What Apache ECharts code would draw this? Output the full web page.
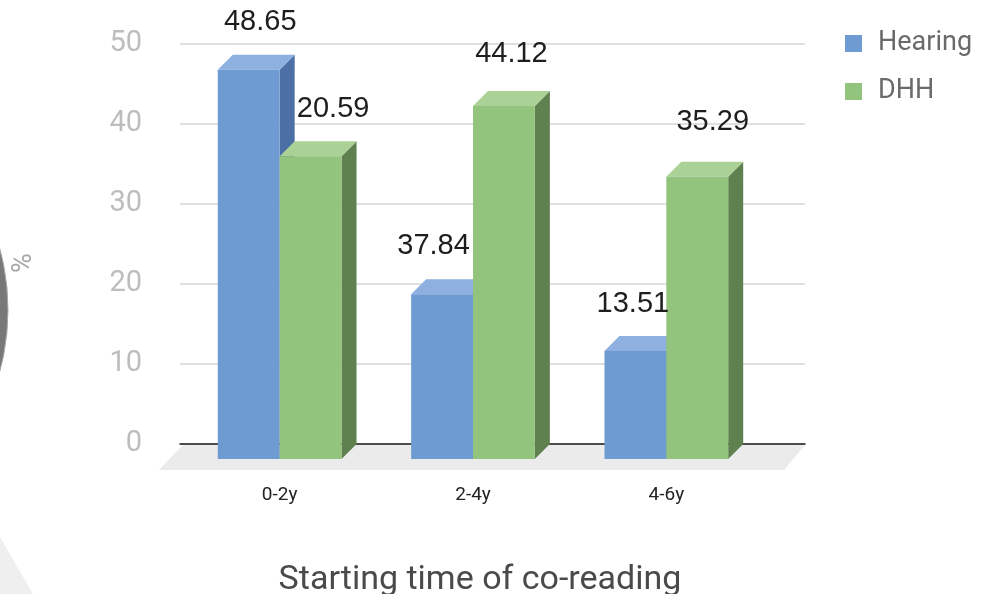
<!DOCTYPE html>
<html>
<head>
<meta charset="utf-8">
<title>Starting time of co-reading</title>
<script src="https://cdn.jsdelivr.net/npm/echarts@6/dist/echarts.min.js"></script>
<style>
  html, body { margin: 0; padding: 0; background: #ffffff; }
  #chart { width: 991px; height: 594px; }
</style>
</head>
<body>
<div id="chart"></div>
<script>
// Categories and values (percent of each group)
const categories = ['0-2y', '2-4y', '4-6y'];
const hearing = [48.65, 20.59, 13.51];
const dhh = [37.84, 44.12, 35.29];
// Value labels as printed above the bars
const hearingLabels = ['48.65', '37.84', '13.51'];
const dhhLabels = ['20.59', '44.12', '35.29'];
const yTicks = [0, 10, 20, 30, 40, 50];

// Look of the pseudo-3D bars
const DEPTH_X = 15;
const DEPTH_Y = 15;
const BAR_FRACTION = 0.32;
const LABEL_FONT = '29px "Liberation Sans", Arial, sans-serif';
const palette = {
  Hearing: { front: '#6F9BD3', top: '#8EB0E0', side: '#4C70A6' },
  DHH: { front: '#93C47E', top: '#AAD296', side: '#5F814F' }
};
// label nudges [dx, dy] relative to the bar's top
const hearingLabelShift = [[4, -33], [-16, -33], [-10, -32]];
const dhhLabelShift = [[15, -32], [0, -37], [8, -40]];

function barRenderer(colors, side, labels, shifts) {
  return function (params, api) {
    const i = api.value(0);
    const v = api.value(1);
    const base = api.coord([i, 0]);
    const top = api.coord([i, v]);
    const band = api.size([1, 0])[0];
    const w = band * BAR_FRACTION;
    const x0 = side === 0 ? base[0] - w : base[0];
    const ty = top[1];
    const by = base[1];
    const sh = shifts[params.dataIndex];
    return {
      type: 'group',
      children: [
        {
          type: 'polygon',
          shape: { points: [[x0 + w, ty], [x0 + w + DEPTH_X, ty - DEPTH_Y], [x0 + w + DEPTH_X, by - DEPTH_Y], [x0 + w, by]] },
          style: { fill: colors.side }
        },
        {
          type: 'polygon',
          shape: { points: [[x0, ty], [x0 + w, ty], [x0 + w + DEPTH_X, ty - DEPTH_Y], [x0 + DEPTH_X, ty - DEPTH_Y]] },
          style: { fill: colors.top }
        },
        {
          type: 'rect',
          shape: { x: x0, y: ty, width: w, height: by - ty },
          style: { fill: colors.front }
        },
        {
          type: 'text',
          z2: 100,
          style: {
            text: labels[params.dataIndex],
            x: x0 + (w + DEPTH_X) / 2 + sh[0],
            y: ty - DEPTH_Y + sh[1],
            textAlign: 'center',
            textVerticalAlign: 'middle',
            font: LABEL_FONT,
            fill: '#1E1E1E'
          }
        }
      ]
    };
  };
}

const chart = echarts.init(document.getElementById('chart'), null, { renderer: 'canvas' });

chart.setOption({
  backgroundColor: '#ffffff',
  animation: false,
  textStyle: { fontFamily: 'Roboto, "Noto Sans", sans-serif' },
  legend: {
    orient: 'vertical',
    left: 840,
    top: 25,
    icon: 'rect',
    itemWidth: 17,
    itemHeight: 17,
    itemGap: 21,
    selectedMode: false,
    textStyle: { fontSize: 27, color: '#6A6A6A', fontFamily: 'Roboto', padding: [0, 0, 0, 11] },
    data: ['Hearing', 'DHH']
  },
  grid: [
    // back wall: gridlines, value axis, base line
    { left: 180, right: 186, top: 44, bottom: 150 },
    // front plane: bars and category labels
    { left: 183, right: 228, top: 59, bottom: 135 }
  ],
  xAxis: [
    {
      gridIndex: 0, type: 'value', min: 0, max: 1,
      axisLine: { show: true, onZero: false, lineStyle: { color: '#1A1A1A', width: 1.5 } },
      axisTick: { show: false }, axisLabel: { show: false }, splitLine: { show: false }
    },
    {
      gridIndex: 1, type: 'category', data: categories,
      axisLine: { show: false }, axisTick: { show: false },
      axisLabel: { margin: 27, fontSize: 19, color: '#222222', fontFamily: 'Roboto' }
    }
  ],
  yAxis: [
    {
      gridIndex: 0, type: 'value', min: yTicks[0], max: yTicks[yTicks.length - 1], interval: 10,
      axisLine: { show: false }, axisTick: { show: false },
      axisLabel: { margin: 38, fontSize: 29, color: '#BDBDBD', fontFamily: 'Roboto' },
      splitLine: { lineStyle: { color: '#D6D6D6', width: 1.5 } }
    },
    {
      gridIndex: 1, type: 'value', min: yTicks[0], max: yTicks[yTicks.length - 1], show: false
    }
  ],
  graphic: [
    {
      type: 'circle', z: -10, silent: true,
      shape: { cx: -229, cy: 310, r: 237 },
      style: { fill: '#787878', stroke: '#A8A8A8', lineWidth: 1 }
    },
    {
      type: 'polygon', z: -10, silent: true,
      shape: { points: [[0, 537], [33, 594], [0, 594]] },
      style: { fill: '#EFEFEF' }
    },
    {
      type: 'text', x: 24, y: 263, rotation: Math.PI / 2, silent: true,
      style: { text: '%', textAlign: 'center', textVerticalAlign: 'middle', font: '27px Roboto', fill: '#A6A6A6' }
    },
    {
      type: 'text', x: 480, y: 580, silent: true,
      style: { text: 'Starting time of co-reading', textAlign: 'center', textVerticalAlign: 'middle', font: '34px Roboto', fill: '#4A4A4A' }
    }
  ],
  series: [
    {
      // floor under the bars
      type: 'custom', name: 'floor', xAxisIndex: 0, yAxisIndex: 0, z: 0, silent: true,
      data: [[0, 0]],
      renderItem: function (params, api) {
        const l = api.coord([0, 0]);
        const r = api.coord([1, 0]);
        return {
          type: 'polygon',
          shape: { points: [[l[0] + 3, l[1] + 1], [r[0], r[1] + 1], [r[0] - 21, r[1] + 26], [l[0] - 21, l[1] + 26]] },
          style: { fill: '#EBEBEB' }
        };
      }
    },
    {
      type: 'custom', name: 'Hearing', xAxisIndex: 1, yAxisIndex: 1, z: 2,
      itemStyle: { color: palette.Hearing.front },
      data: hearing.map((v, i) => [i, v]),
      renderItem: barRenderer(palette.Hearing, 0, hearingLabels, hearingLabelShift)
    },
    {
      type: 'custom', name: 'DHH', xAxisIndex: 1, yAxisIndex: 1, z: 2,
      itemStyle: { color: palette.DHH.front },
      data: dhh.map((v, i) => [i, v]),
      renderItem: barRenderer(palette.DHH, 1, dhhLabels, dhhLabelShift)
    }
  ]
});
</script>
</body>
</html>
